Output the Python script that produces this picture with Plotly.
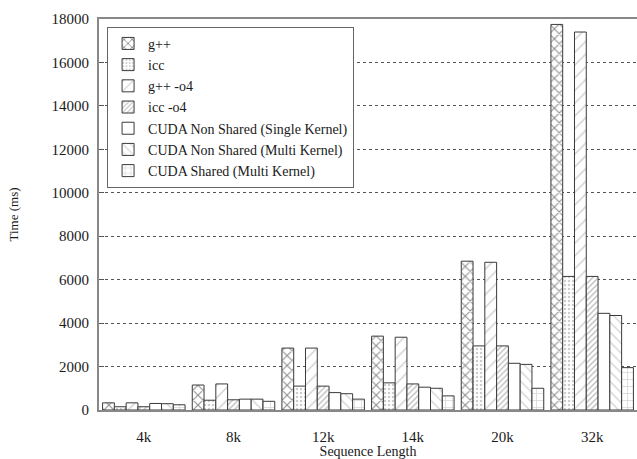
import plotly.graph_objects as go

categories = ["4k", "8k", "12k", "14k", "20k", "32k"]

series_names = [
    "g++",
    "icc",
    "g++ -o4",
    "icc -o4",
    "CUDA Non Shared (Single Kernel)",
    "CUDA Non Shared (Multi Kernel)",
    "CUDA Shared (Multi Kernel)",
]

gpp = [330, 1150, 2850, 3400, 6850, 17750]
icc = [150, 450, 1100, 1250, 2950, 6150]
gpp_o4 = [330, 1200, 2850, 3350, 6800, 17400]
icc_o4 = [150, 470, 1100, 1200, 2950, 6150]
cuda_single = [300, 500, 800, 1050, 2150, 4450]
cuda_multi = [290, 500, 750, 1000, 2100, 4350]
cuda_shared = [240, 400, 500, 650, 1000, 1950]

series_values = [gpp, icc, gpp_o4, icc_o4, cuda_single, cuda_multi, cuda_shared]

patterns = [
    dict(shape="x", fgcolor="#222222", size=7, solidity=0.3),
    dict(shape=".", fgcolor="#9a9a9a", size=4, solidity=0.3),
    dict(shape="/", fgcolor="#9a9a9a", size=9, solidity=0.15),
    dict(shape="/", fgcolor="#707070", size=4, solidity=0.3),
    dict(shape=""),
    dict(shape="\\", fgcolor="#a8a8a8", size=7, solidity=0.2),
    dict(shape="+", fgcolor="#a8a8a8", size=7, solidity=0.2),
]

y_ticks = list(range(0, 18001, 2000))

font_family = "Liberation Serif, Times New Roman, serif"

fig = go.Figure()
for name, vals, pat in zip(series_names, series_values, patterns):
    fig.add_trace(go.Bar(
        x=categories,
        y=vals,
        name=name,
        marker=dict(color="white", line=dict(color="#3a3a3a", width=1), pattern=pat),
    ))

fig.update_layout(
    width=637,
    height=459,
    margin=dict(l=99, r=0, t=19, b=49, pad=0),
    autosize=False,
    paper_bgcolor="white",
    plot_bgcolor="white",
    barmode="group",
    bargap=0.08,
    bargroupgap=0,
    font=dict(family=font_family, size=13, color="#1a1a1a"),
    showlegend=True,
    legend=dict(
        x=0.015, y=0.98, xanchor="left", yanchor="top",
        bgcolor="white", bordercolor="#666666", borderwidth=1,
        font=dict(family=font_family, size=14, color="#1a1a1a"),
        tracegroupgap=0,
    ),
    xaxis=dict(
        title=dict(text="Sequence Length", font=dict(size=14), standoff=2),
        range=[-0.5, 5.5],
        automargin=False,
        showline=True, linecolor="#888888", linewidth=2, mirror=True,
        ticks="", showgrid=False,
        tickfont=dict(size=15),
        ticklabelstandoff=12,
    ),
    yaxis=dict(
        title=dict(text="Time (ms)", font=dict(size=13), standoff=30),
        range=[0, 18000],
        automargin=False,
        tickvals=y_ticks,
        tickformat="d",
        showline=True, linecolor="#888888", linewidth=2,
        ticks="inside", ticklen=5, tickcolor="#555555",
        showgrid=True, gridcolor="#555555", griddash="dot", gridwidth=1,
        zeroline=False,
        tickfont=dict(size=15),
        ticklabelstandoff=5,
    ),
)

fig.write_html(
    "out.html",
    config={"displayModeBar": False},
    post_script="document.body.style.margin='0';document.body.style.overflow='hidden';",
)
